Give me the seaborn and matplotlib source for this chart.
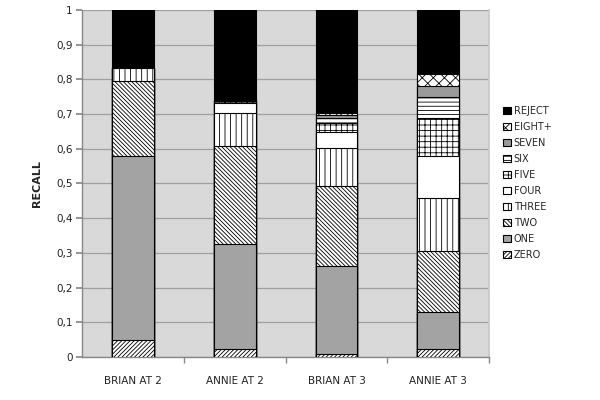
import numpy as np
import matplotlib
matplotlib.use("Agg")
import matplotlib.pyplot as plt
import matplotlib.patches as mpatches
from matplotlib.ticker import FixedLocator
import seaborn as sns

# Data (segment heights, bottom to top)
categories = ['BRIAN AT 2', 'ANNIE AT 2', 'BRIAN AT 3', 'ANNIE AT 3']
segments = ['ZERO', 'ONE', 'TWO', 'THREE', 'FOUR', 'FIVE', 'SIX', 'SEVEN', 'EIGHT+', 'REJECT']
zero = [0.050, 0.022, 0.008, 0.022]
one = [0.528, 0.303, 0.255, 0.108]
two = [0.217, 0.284, 0.231, 0.176]
three = [0.038, 0.093, 0.107, 0.151]
four = [0.000, 0.029, 0.047, 0.123]
five = [0.000, 0.007, 0.025, 0.108]
six = [0.000, 0.004, 0.017, 0.062]
seven = [0.000, 0.000, 0.007, 0.032]
eight_plus = [0.000, 0.000, 0.007, 0.033]
reject = [0.167, 0.258, 0.296, 0.185]
y_ticks = [0, 0.1, 0.2, 0.3, 0.4, 0.5, 0.6, 0.7, 0.8, 0.9, 1]
y_tick_labels = ['0', '0,1', '0,2', '0,3', '0,4', '0,5', '0,6', '0,7', '0,8', '0,9', '1']

# Styles for each segment
faces = ['white', '#a3a3a3', 'white', 'white', 'white', 'white', 'white', '#9a9a9a', 'white', 'black']
hatches = ['////////', '', '\\\\\\\\\\\\\\\\', '|||', '', '+++', '----', '', 'xxx', '']

sns.set_theme(style="white")
plt.rcParams['font.family'] = ['DejaVu Sans']
plt.rcParams['hatch.linewidth'] = 0.6

values = np.array([zero, one, two, three, four, five, six, seven, eight_plus, reject])
tops = np.cumsum(values, axis=0)

fig = plt.figure(figsize=(6, 4), dpi=100)
ax = fig.add_axes([0.137, 0.1075, 0.678, 0.8675])
ax.set_facecolor('#d9d9d9')

# Stacked bars: draw cumulative totals from the top down, each covering the one before
for i in range(len(segments) - 1, -1, -1):
    sns.barplot(x=categories, y=tops[i], color=faces[i], saturation=1, hatch=hatches[i],
                edgecolor='black', linewidth=0.8, width=0.41, ax=ax, zorder=3)

ax.set_ylim(0, 1)
ax.set_xlim(-0.5, 3.5)
ax.set_yticks(y_ticks)
ax.set_yticklabels(y_tick_labels, fontsize=7.5, color='#222222')
ax.yaxis.grid(True, color='#a0a0a0', linewidth=0.9)
ax.set_axisbelow(True)
ax.tick_params(axis='y', length=4, color='#888888', left=True, pad=3)
ax.tick_params(axis='x', which='major', length=0, pad=14, labelsize=7.5, labelcolor='#222222')
ax.xaxis.set_minor_locator(FixedLocator([0.5, 1.5, 2.5, 3.5]))
ax.tick_params(axis='x', which='minor', length=4, color='#888888', bottom=True)
ax.spines['top'].set_visible(False)
ax.spines['right'].set_color('#c8c8c8')
for side in ['left', 'bottom']:
    ax.spines[side].set_color('#888888')
    ax.spines[side].set_linewidth(1)
ax.set_xlabel('')
ax.set_ylabel('RECALL', fontsize=8, fontweight='bold', labelpad=10)

handles = [mpatches.Patch(facecolor=faces[i], edgecolor='black', hatch=hatches[i],
                          linewidth=0.8, label=segments[i])
           for i in range(len(segments) - 1, -1, -1)]
fig.legend(handles=handles, loc='upper left', bbox_to_anchor=(0.832, 0.745),
           frameon=False, fontsize=7, handlelength=0.8, handleheight=0.8,
           handletextpad=0.3, labelspacing=0.62, borderaxespad=0)

fig.savefig('out.png', dpi=100)
